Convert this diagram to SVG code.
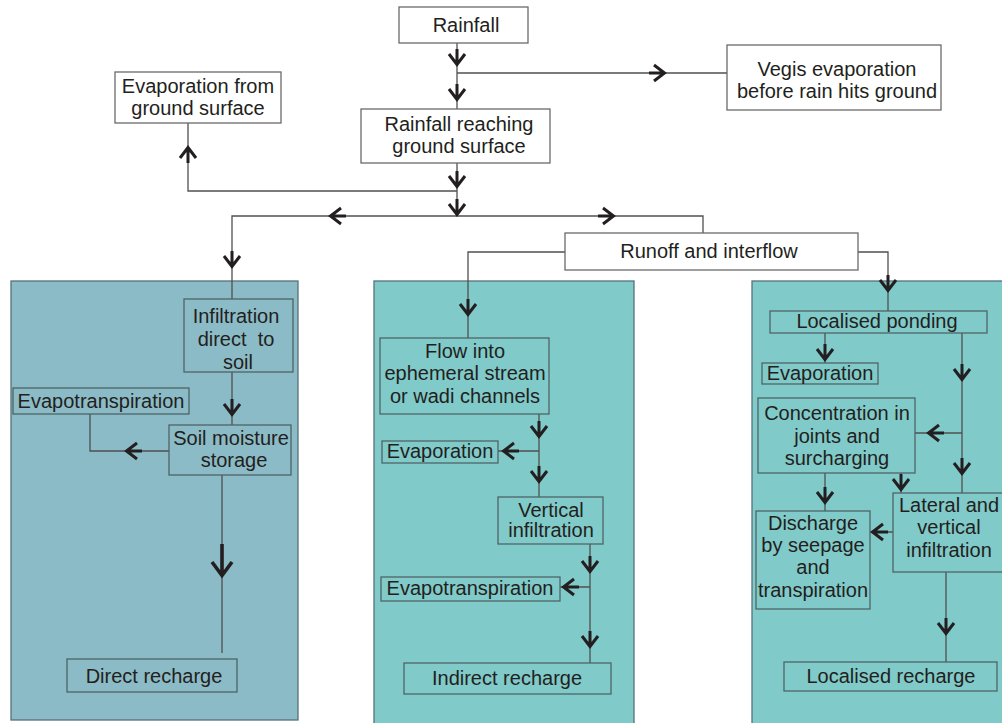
<svg xmlns="http://www.w3.org/2000/svg" xmlns:xlink="http://www.w3.org/1999/xlink" width="1002" height="723" viewBox="0 0 1002 723">
<style>
.box{fill:#ffffff;stroke:#6a6a6a;stroke-width:1.3}
.ibox{fill:none;stroke:#4f6468;stroke-width:1.3}
.panelA{fill:#8bbbc6;stroke:#56707a;stroke-width:1.3}
.panelB{fill:#80cac9;stroke:#56707a;stroke-width:1.3}
.ln{fill:none;stroke:#505050;stroke-width:1.3}
.arr{fill:none;stroke:#231f20;stroke-width:3;stroke-linecap:butt;stroke-linejoin:miter}
text{font-family:"Liberation Sans",Arial,sans-serif;font-size:20px;fill:#231f20;text-anchor:middle;white-space:pre}
</style>
<defs>
<path id="a" class="arr" d="M0,-16 V-1 M-8,-11 L0,-0.5 L8,-11"/>
<path id="ab" class="arr" d="M0,-32 V-1 M-10,-14 L0,-0.5 L10,-14" style="stroke-width:3.6"/>
</defs>
<rect width="1002" height="723" fill="#ffffff"/>
<g id="panels">
<rect class="panelA" x="11" y="281" width="287" height="439"/>
<rect class="panelB" x="374" y="281" width="260" height="445"/>
<rect class="panelB" x="752" y="281" width="253" height="445"/>
</g>
<g id="connectors">
<path class="ln" d="M457,43 V109 M457,73 H727"/>
<path class="ln" d="M457,163 V216 M457,191 H188 V123"/>
<path class="ln" d="M232,299 V216 H703 V233"/>
<path class="ln" d="M565,252 H468 V338 M858,252 H888 V311"/>
<path class="ln" d="M232,372 V425 M90,414 V451 H169 M222,475 V653"/>
<path class="ln" d="M539,414 V497 M539,451 H498 M590,544 V663 M590,587 H560"/>
<path class="ln" d="M825,333 V363 M962,333 V493 M962,433 H915 M825,473 V511 M901,473 V493 M893,532 H870 M946,572 V662"/>
<use xlink:href="#a" transform="translate(457,65)"/>
<use xlink:href="#a" transform="translate(457,100)"/>
<use xlink:href="#a" transform="translate(665,73) rotate(-90)"/>
<use xlink:href="#a" transform="translate(457,187)"/>
<use xlink:href="#a" transform="translate(188,147) rotate(180)"/>
<use xlink:href="#a" transform="translate(457,215)"/>
<use xlink:href="#a" transform="translate(330,216) rotate(90)"/>
<use xlink:href="#a" transform="translate(614,216) rotate(-90)"/>
<use xlink:href="#a" transform="translate(232,267)"/>
<use xlink:href="#a" transform="translate(888,291)"/>
<use xlink:href="#a" transform="translate(468,315)"/>
<use xlink:href="#a" transform="translate(232,415)"/>
<use xlink:href="#a" transform="translate(126,451) rotate(90)"/>
<use xlink:href="#ab" transform="translate(222,576)"/>
<use xlink:href="#a" transform="translate(539,437)"/>
<use xlink:href="#a" transform="translate(503,451) rotate(90)"/>
<use xlink:href="#a" transform="translate(539,482)"/>
<use xlink:href="#a" transform="translate(590,572)"/>
<use xlink:href="#a" transform="translate(563,587) rotate(90)"/>
<use xlink:href="#a" transform="translate(590,647)"/>
<use xlink:href="#a" transform="translate(825,360)"/>
<use xlink:href="#a" transform="translate(962,380)"/>
<use xlink:href="#a" transform="translate(928,433) rotate(90)"/>
<use xlink:href="#a" transform="translate(962,474)"/>
<use xlink:href="#a" transform="translate(825,503)"/>
<use xlink:href="#a" transform="translate(901,490)"/>
<use xlink:href="#a" transform="translate(872,532) rotate(90)"/>
<use xlink:href="#a" transform="translate(946,634)"/>
</g>
<g id="n-rainfall"><rect class="box" x="399" y="7" width="129" height="36"/><text x="466" y="32">Rainfall</text></g>
<g id="n-vegis"><rect class="box" x="727" y="45" width="214" height="65"/><text x="837" y="76">Vegis evaporation</text><text x="837" y="98">before rain hits ground</text></g>
<g id="n-evapground"><rect class="box" x="115" y="72" width="166" height="51"/><text x="198" y="93">Evaporation from</text><text x="198" y="115">ground surface</text></g>
<g id="n-rrgs"><rect class="box" x="361" y="109" width="189" height="54"/><text x="459" y="131">Rainfall reaching</text><text x="459" y="153">ground surface</text></g>
<g id="n-runoff"><rect class="box" x="565" y="233" width="293" height="37"/><text x="709" y="258">Runoff and interflow</text></g>
<g id="n-infiltration"><rect class="ibox" x="184" y="299" width="109" height="73"/><text x="236" y="323">Infiltration</text><text x="236" y="346">direct  to</text><text x="238" y="369">soil</text></g>
<g id="n-evapotrans1"><rect class="ibox" x="13" y="388" width="176" height="26"/><text x="101" y="408">Evapotranspiration</text></g>
<g id="n-soil"><rect class="ibox" x="169" y="425" width="122" height="50"/><text x="231" y="445">Soil moisture</text><text x="234" y="467">storage</text></g>
<g id="n-direct"><rect class="ibox" x="67" y="659" width="170" height="33"/><text x="154" y="683">Direct recharge</text></g>
<g id="n-flow"><rect class="ibox" x="380" y="338" width="169" height="76"/><text x="465" y="358">Flow into</text><text x="465" y="380">ephemeral stream</text><text x="465" y="403">or wadi channels</text></g>
<g id="n-evap2"><rect class="ibox" x="382" y="441" width="116" height="22"/><text x="440" y="458">Evaporation</text></g>
<g id="n-vertical"><rect class="ibox" x="498" y="497" width="105" height="47"/><text x="551" y="517">Vertical</text><text x="551" y="537">infiltration</text></g>
<g id="n-evapotrans2"><rect class="ibox" x="381" y="577" width="179" height="24"/><text x="470" y="595">Evapotranspiration</text></g>
<g id="n-indirect"><rect class="ibox" x="404" y="663" width="207" height="31"/><text x="507" y="685">Indirect recharge</text></g>
<g id="n-ponding"><rect class="ibox" x="770" y="311" width="217" height="22"/><text x="877" y="328">Localised ponding</text></g>
<g id="n-evap3"><rect class="ibox" x="762" y="363" width="116" height="21"/><text x="820" y="380">Evaporation</text></g>
<g id="n-concentration"><rect class="ibox" x="758" y="398" width="157" height="75"/><text x="837" y="420">Concentration in</text><text x="837" y="443">joints and</text><text x="837" y="465">surcharging</text></g>
<g id="n-lateral"><rect class="ibox" x="893" y="493" width="112" height="79"/><text x="949" y="512">Lateral and</text><text x="949" y="534">vertical</text><text x="949" y="557">infiltration</text></g>
<g id="n-discharge"><rect class="ibox" x="756" y="511" width="114" height="98"/><text x="813" y="530">Discharge</text><text x="813" y="552">by seepage</text><text x="813" y="574">and</text><text x="813" y="597">transpiration</text></g>
<g id="n-localrecharge"><rect class="ibox" x="784" y="662" width="213" height="29"/><text x="891" y="683">Localised recharge</text></g>
</svg>
